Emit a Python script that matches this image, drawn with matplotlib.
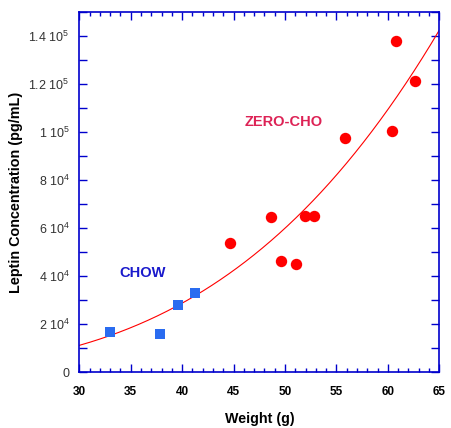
import numpy as np
import matplotlib
matplotlib.use("Agg")
import matplotlib.pyplot as plt
from matplotlib.ticker import MultipleLocator, FixedLocator, FixedFormatter

# Data
chow_weight = [33.0, 37.8, 39.6, 41.2]
chow_leptin = [16500, 15800, 27800, 32800]

zero_weight = [44.6, 48.65, 49.6, 51.05, 51.9, 52.85, 55.8, 60.4, 60.8, 62.65]
zero_leptin = [54000, 64500, 46200, 44900, 64900, 64900, 97400, 100300, 138200, 121200]

# Power-law fit curve y = a * x^b (parameters)
fit_a = 0.1484
fit_b = 3.3

y_ticks = [0, 20000, 40000, 60000, 80000, 100000, 120000, 140000]
y_labels = ['0', r'2 10$^{4}$', r'4 10$^{4}$', r'6 10$^{4}$', r'8 10$^{4}$',
            r'1 10$^{5}$', r'1.2 10$^{5}$', r'1.4 10$^{5}$']
x_ticks = [30, 35, 40, 45, 50, 55, 60, 65]

plt.rcParams['font.family'] = ['Liberation Sans', 'DejaVu Sans']
plt.rcParams['mathtext.fontset'] = 'custom'
plt.rcParams['mathtext.rm'] = 'Liberation Sans'

fig = plt.figure(figsize=(4.52, 4.28), dpi=100)
ax = fig.add_axes([0.1755, 0.1308, 0.7965, 0.8405])

axis_blue = '#0000cc'

xs = np.linspace(30, 65, 300)
ax.plot(xs, fit_a * xs ** fit_b, color='#ff0000', lw=0.8, zorder=2)

ax.plot(chow_weight, chow_leptin, 's', color='#2a6cf0', markersize=7.8,
        markeredgewidth=0, zorder=3)
ax.plot(zero_weight, zero_leptin, 'o', color='#ff0000', markersize=8.2,
        markeredgewidth=0, zorder=3)

ax.set_xlim(30, 65)
ax.set_ylim(0, 150000)

ax.xaxis.set_major_locator(FixedLocator(x_ticks))
ax.xaxis.set_minor_locator(MultipleLocator(1))
ax.yaxis.set_major_locator(FixedLocator(y_ticks))
ax.yaxis.set_major_formatter(FixedFormatter(y_labels))
ax.yaxis.set_minor_locator(MultipleLocator(10000))

ax.set_xticklabels([str(v) for v in x_ticks], fontweight='bold', fontsize=8.5)
for lbl in ax.get_yticklabels():
    lbl.set_fontsize(9)
    lbl.set_color('#333333')

for s in ax.spines.values():
    s.set_color(axis_blue)
    s.set_linewidth(1.2)

ax.tick_params(axis='x', which='major', direction='in', length=6, width=1, color=axis_blue,
               top=True, pad=10)
ax.tick_params(axis='y', which='major', direction='in', length=6, width=1, color=axis_blue,
               right=True, pad=7)
ax.tick_params(which='minor', direction='in', length=3, width=1, color=axis_blue,
               top=True, right=True)
ax.tick_params(axis='y', which='minor', length=6)

ax.set_xlabel('Weight (g)', fontweight='bold', fontsize=10.3, labelpad=10)
ax.set_ylabel('Leptin Concentration (pg/mL)', fontweight='bold', fontsize=10.4, labelpad=4)

ax.text(36.1, 41400, 'CHOW', color='#1a1acc', fontweight='bold', fontsize=10.5,
        ha='center', va='center')
ax.text(49.9, 104300, 'ZERO-CHO', color='#dd2255', fontweight='bold', fontsize=10.5,
        ha='center', va='center')

fig.savefig('out.png', dpi=100, facecolor='white')
